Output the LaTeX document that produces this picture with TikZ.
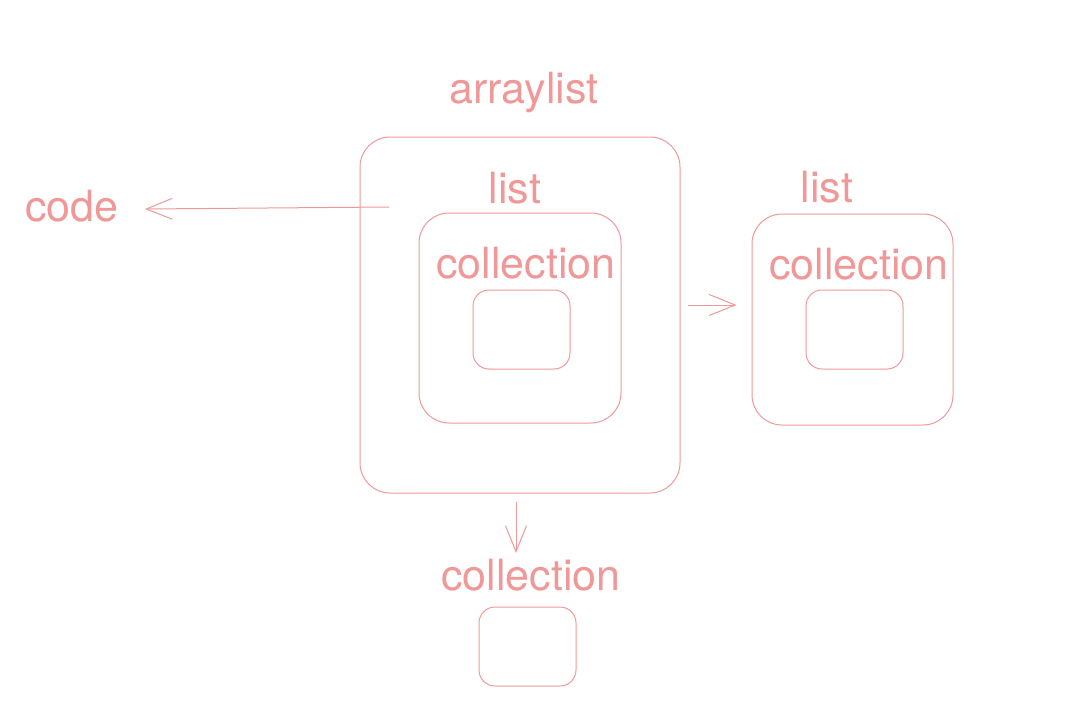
\documentclass[tikz,border=0pt]{standalone}
\usepackage{fontspec}
\setmainfont{TeX Gyre Heros}
\usetikzlibrary{arrows.meta}
\definecolor{salmon}{RGB}{240,152,152}
\begin{document}
\begin{tikzpicture}[x=0.5pt,y=-0.5pt,
  box/.style={draw=salmon,line width=0.5pt,rounded corners=15pt,inner sep=0pt},
  small/.style={box,rounded corners=8pt,minimum width=48.5pt,minimum height=39.5pt},
  lbl/.style={text=salmon,anchor=base,inner sep=0pt,font=\fontsize{21.5}{26}\selectfont},
  arr/.style={draw=salmon,line width=0.5pt,-{Straight Barb[length=13pt,width=10.5pt]}}]
\useasboundingbox (0,0) rectangle (1081,707);
% arraylist with its list
\node[box,minimum width=160pt,minimum height=178pt] (arraylist) at (520,315) {};
\node[lbl] (arraylistlbl) at (524,103) {arraylist};
\node[box,minimum width=101pt,minimum height=105pt] (list) at (520,318) {};
\node[lbl] (listlbl) at (515,203) {list};
\node[lbl] (colllbl) at (526,278) {collection};
\node[small] (coll) at (521.5,329.5) {};
% code
\node[lbl] (code) at (72,221) {code};
\coordinate (codefrom) at (389,207);
\coordinate (codeto) at (145,209);
\draw[arr] (codefrom) -- (codeto);
% list on the right
\node[box,minimum width=100.5pt,minimum height=105.5pt] (rlist) at (852.5,319.5) {};
\node[lbl] (rlistlbl) at (827,202) {list};
\node[lbl] (rcolllbl) at (859,279) {collection};
\node[small] (rcoll) at (854.5,329.5) {};
\draw[arr,shorten <=3.5pt,shorten >=7.5pt] (arraylist.east |- 0,305) -- (rlist.west |- 0,305);
% collection below
\node[lbl] (bcolllbl) at (531,590) {collection};
\node[small] (bcoll) at (527.5,646.5) {};
\coordinate (downfrom) at (516,502);
\coordinate (downto) at (516,553);
\draw[arr] (downfrom) -- (downto);
\end{tikzpicture}
\end{document}
